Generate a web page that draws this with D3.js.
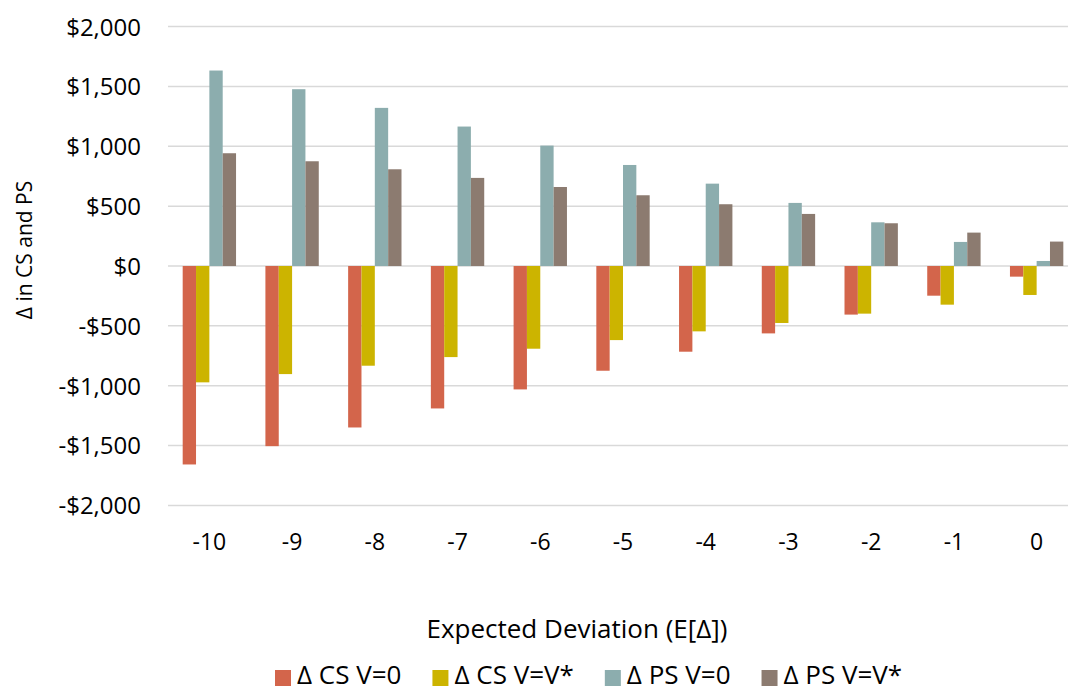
<!DOCTYPE html>
<html>
<head>
<meta charset="utf-8">
<script src="https://cdn.jsdelivr.net/npm/d3@7"></script>
<style>
  body { margin: 0; background: #fff; }
  svg text { font-family: "Open Sans", Lato, sans-serif; fill: #000; }
</style>
</head>
<body>
<svg id="chart" width="1068" height="691"></svg>
<script>
// categories (expected deviation)
var categories = ['-10', '-9', '-8', '-7', '-6', '-5', '-4', '-3', '-2', '-1', '0'];
var seriesNames = ['\u0394 CS V=0', '\u0394 CS V=V*', '\u0394 PS V=0', '\u0394 PS V=V*'];
var seriesColors = ['#d3654b', '#ccb400', '#8cadae', '#8c7b70'];
// values
var csV0 = [-1658, -1505, -1349, -1190, -1031, -875, -716, -563, -406, -248, -89];
var csVstar = [-972, -903, -833, -761, -691, -619, -546, -476, -398, -323, -242];
var psV0 = [1633, 1477, 1321, 1165, 1006, 844, 688, 527, 365, 201, 42];
var psVstar = [942, 875, 808, 736, 660, 591, 516, 435, 357, 279, 204];
var yTicks = [-2000, -1500, -1000, -500, 0, 500, 1000, 1500, 2000];

var series = [csV0, csVstar, psV0, psVstar];

var svg = d3.select('#chart');
var plot = {l: 168, r: 1078, t: 26.6, b: 505.4};

var xScale = d3.scaleBand()
    .domain(categories)
    .range([plot.l, plot.r])
    .paddingInner(0)
    .paddingOuter(0);
var xInner = d3.scaleBand()
    .domain(d3.range(series.length))
    .range([0, xScale.bandwidth() * 0.645])
    .padding(0);
var yScale = d3.scaleLinear().domain([-2000, 2000]).range([plot.b, plot.t]);

var fmt = function(v) {
    var s = d3.format(',')(Math.abs(v));
    return (v < 0 ? '-$' : '$') + s;
};

// gridlines
svg.append('g')
    .selectAll('line')
    .data(yTicks)
    .enter()
    .append('line')
    .attr('x1', plot.l)
    .attr('x2', plot.r)
    .attr('y1', function(d) { return yScale(d); })
    .attr('y2', function(d) { return yScale(d); })
    .attr('stroke', '#d9d9d9')
    .attr('stroke-width', 1.5);

// y axis labels
var yAxis = d3.axisLeft(yScale).tickValues(yTicks).tickFormat(fmt).tickSize(0).tickPadding(0);
var yAxisG = svg.append('g')
    .attr('transform', 'translate(' + [141, 0] + ')')
    .call(yAxis);
yAxisG.select('.domain').remove();
yAxisG.selectAll('text')
    .style('font-size', '24px')
    .attr('dy', '0.35em');

// x axis labels
var xAxis = d3.axisBottom(xScale).tickSize(0).tickPadding(0);
var xAxisG = svg.append('g')
    .attr('transform', 'translate(' + [0, 550] + ')')
    .call(xAxis);
xAxisG.select('.domain').remove();
xAxisG.selectAll('text')
    .style('font-size', '23px')
    .attr('dy', 0)
    .attr('y', 0);

// bars
var offset = (xScale.bandwidth() - xInner.range()[1]) / 2;
series.forEach(function(vals, si) {
    svg.append('g')
        .selectAll('rect')
        .data(vals)
        .enter()
        .append('rect')
        .attr('x', function(d, i) { return xScale(categories[i]) + offset + xInner(si); })
        .attr('width', xInner.bandwidth())
        .attr('y', function(d) { return yScale(Math.max(0, d)); })
        .attr('height', function(d) { return Math.abs(yScale(d) - yScale(0)); })
        .attr('fill', seriesColors[si]);
});

// axis titles
svg.append('text')
    .attr('transform', 'translate(' + [32, 250] + ') rotate(-90)')
    .attr('text-anchor', 'middle')
    .style('font-size', '21px')
    .text('\u0394 in CS and PS');

svg.append('text')
    .attr('x', 577)
    .attr('y', 638)
    .attr('text-anchor', 'middle')
    .style('font-size', '26px')
    .text('Expected Deviation (E[\u0394])');

// legend
var legendG = svg.append('g').attr('transform', 'translate(' + [275, 684] + ')');
var cursor = 0;
seriesNames.forEach(function(name, i) {
    var g = legendG.append('g').attr('transform', 'translate(' + [cursor, 0] + ')');
    g.append('rect')
        .attr('x', 0)
        .attr('y', -14)
        .attr('width', 16)
        .attr('height', 16)
        .attr('fill', seriesColors[i]);
    var t = g.append('text')
        .attr('x', 22)
        .attr('y', 0)
        .style('font-size', '26px')
        .text(name);
    var w = t.node().getComputedTextLength();
    cursor += 22 + w + 31;
});
</script>
</body>
</html>
